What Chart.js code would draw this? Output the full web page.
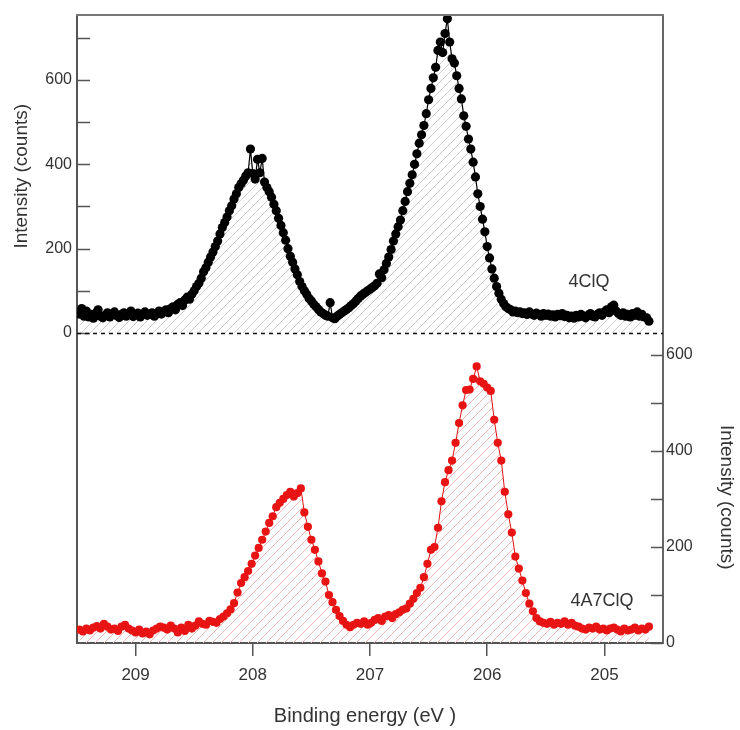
<!DOCTYPE html>
<html>
<head>
<meta charset="utf-8">
<title>XPS S 2p spectra</title>
<script src="https://cdn.jsdelivr.net/npm/chart.js@4.4.1/dist/chart.umd.min.js"></script>
<style>
    html, body { margin: 0; padding: 0; background: #fff; }
    #wrap { width: 740px; height: 730px; }
</style>
</head>
<body>
<div id="wrap"><canvas id="xps-chart" width="740" height="730"></canvas></div>
<script>
// Binding energy sampling (eV), first point and step of each scan
var blackStart = 209.48, blackStep = 0.02;
var redStart = 209.48, redStep = 0.03;

// 4ClQ counts (top panel)
var clqCounts = [
    45, 58, 40, 52, 38, 44, 35, 47, 55, 40,
    36, 42, 48, 38, 45, 50, 41, 37, 44, 48,
    40, 46, 52, 39, 43, 47, 38, 45, 50, 42,
    44, 48, 40, 46, 52, 45, 50, 55, 48, 58,
    62, 55, 68, 72, 65, 78, 85, 80, 92, 100,
    110, 118, 130, 145, 155, 168, 180, 192, 205, 218,
    235, 250, 262, 275, 290, 302, 318, 330, 345, 354,
    362, 372, 380, 436, 378, 365, 412, 380, 414, 358,
    345, 335, 322, 305, 290, 272, 255, 238, 220, 200,
    182, 168, 152, 138, 122, 110, 100, 92, 82, 76,
    68, 62, 56, 50, 46, 42, 40, 72, 36, 34,
    40, 44, 48, 52, 56, 60, 65, 70, 76, 82,
    88, 92, 96, 100, 104, 108, 112, 118, 140, 131,
    150, 165, 180, 198, 218, 235, 252, 268, 290, 312,
    335, 355, 375, 400, 425, 450, 470, 492, 520, 553,
    580, 605, 630, 670, 690, 665, 710, 745, 690, 650,
    640, 610, 580, 555, 515, 490, 460, 436, 405, 370,
    330, 300, 270, 240, 205, 178, 152, 130, 110, 94,
    80, 70, 62, 58, 55, 50, 52, 48, 50, 46,
    48, 44, 50, 45, 42, 47, 44, 40, 46, 42,
    45, 40, 43, 38, 44, 41, 46, 39, 42, 36,
    40, 35, 42, 38, 44, 40, 36, 42, 46, 40,
    38, 44, 48, 42, 50, 55, 48, 62, 66, 52,
    46, 42, 48, 40, 44, 38, 46, 42, 50, 40,
    44, 38, 36, 28
];

// 4A7ClQ counts (bottom panel)
var a7clqCounts = [
    28, 24, 30, 26, 32, 35, 30, 40, 34, 28,
    30, 25, 34, 38, 30, 26, 22, 28, 20, 24,
    18, 26, 30, 34, 32, 28, 36, 30, 22, 32,
    25, 38, 30, 36, 45, 40, 38, 46, 44, 42,
    50, 55, 62, 70, 83, 105, 125, 137, 150, 165,
    182, 198, 215, 232, 250, 264, 283, 292, 300, 308,
    315, 305, 312, 322, 272, 242, 215, 194, 170, 145,
    128, 100, 85, 69, 56, 46, 38, 33, 38, 42,
    40, 45, 38, 42, 48, 52, 46, 55, 58, 52,
    60, 64, 69, 72, 82, 92, 104, 115, 137, 165,
    194, 200, 240, 295, 335, 360, 380, 417, 458, 495,
    527, 528, 550, 576, 545, 540, 532, 525, 465, 417,
    380, 315, 268, 230, 180, 155, 130, 104, 82, 66,
    52, 45, 42, 40, 44, 38, 42, 40, 45, 38,
    42, 36, 34, 30, 28, 32, 30, 34, 28, 30,
    26, 30, 32, 28, 24, 30, 26, 28, 32, 26,
    30, 28, 34
];

// Axis ticks
var energyTicks = [205, 206, 207, 208, 209];
var topTicks = [0, 100, 200, 300, 400, 500, 600, 700];
var bottomTicks = [0, 100, 200, 300, 400, 500, 600];

(function() {
    'use strict';

    var textColor = '#333';
    var axisColor = '#555';

    function toPoints(start, step, counts) {
        return counts.map(function(c, i) {
            return { x: +(start - i * step).toFixed(3), y: c };
        });
    }

    /**
     * Diagonal hatch used under each spectrum
     */
    function hatch(color) {
        var s = 9;
        var c = document.createElement('canvas');
        c.width = s;
        c.height = s;
        var g = c.getContext('2d');
        g.strokeStyle = color;
        g.lineWidth = 1;
        g.beginPath();
        g.moveTo(0, s); g.lineTo(s, 0);
        g.moveTo(-2, 2); g.lineTo(2, -2);
        g.moveTo(s - 2, s + 2); g.lineTo(s + 2, s - 2);
        g.stroke();
        return g.createPattern(c, 'repeat');
    }

    var frame = {
        id: 'frame',
        afterDraw: function(chart) {
            var ctx = chart.ctx;
            var a = chart.chartArea;
            var y1 = chart.scales.y1;
            var y2 = chart.scales.y2;
            ctx.save();

            // top border
            ctx.strokeStyle = '#777';
            ctx.lineWidth = 2;
            ctx.beginPath();
            ctx.moveTo(a.left - 1, a.top);
            ctx.lineTo(a.right + 1, a.top);
            ctx.stroke();

            // inward ticks
            ctx.strokeStyle = axisColor;
            ctx.lineWidth = 1.5;
            ctx.beginPath();
            topTicks.forEach(function(v) {
                var p = Math.round(y1.getPixelForValue(v)) + 0.5;
                ctx.moveTo(a.left, p);
                ctx.lineTo(a.left + 13, p);
            });
            bottomTicks.forEach(function(v) {
                var p = Math.round(y2.getPixelForValue(v)) + 0.5;
                ctx.moveTo(a.right, p);
                ctx.lineTo(a.right - 12, p);
            });
            ctx.stroke();

            // zero line of the top spectrum
            var z = Math.round(y1.getPixelForValue(0)) + 0.5;
            ctx.strokeStyle = '#111';
            ctx.lineWidth = 1.5;
            ctx.setLineDash([4, 4]);
            ctx.beginPath();
            ctx.moveTo(a.left, z);
            ctx.lineTo(a.right, z);
            ctx.stroke();
            ctx.setLineDash([]);

            // titles and labels
            ctx.fillStyle = textColor;
            ctx.textAlign = 'center';
            ctx.textBaseline = 'middle';
            ctx.font = '19px "Liberation Sans", Arial, sans-serif';

            ctx.save();
            ctx.translate(22, (a.top + z) / 2 + 2);
            ctx.rotate(-Math.PI / 2);
            ctx.fillText('Intensity (counts)', 0, 0);
            ctx.restore();

            ctx.save();
            ctx.translate(726, (z + a.bottom) / 2 + 9);
            ctx.rotate(Math.PI / 2);
            ctx.fillText('Intensity (counts)', 0, 0);
            ctx.restore();

            ctx.font = '20px "Liberation Sans", Arial, sans-serif';
            ctx.fillText('Binding energy (eV )', 365, 716);

            ctx.font = '18px "Liberation Sans", Arial, sans-serif';
            ctx.fillText('4ClQ', 589, 282);
            ctx.fillText('4A7ClQ', 602, 601);
            ctx.restore();
        }
    };

    var canvas = document.getElementById('xps-chart');

    new Chart(canvas.getContext('2d'), {
        type: 'scatter',
        data: {
            datasets: [{
                label: '4ClQ',
                data: toPoints(blackStart, blackStep, clqCounts),
                yAxisID: 'y1',
                showLine: true,
                borderColor: '#000',
                borderWidth: 1.2,
                backgroundColor: hatch('#cdcdcd'),
                pointBackgroundColor: '#000',
                pointBorderWidth: 0,
                pointRadius: 4.6,
                fill: 'origin'
            }, {
                label: '4A7ClQ',
                data: toPoints(redStart, redStep, a7clqCounts),
                yAxisID: 'y2',
                showLine: true,
                borderColor: '#e01010',
                borderWidth: 1,
                backgroundColor: hatch('#eeb8b8'),
                pointBackgroundColor: '#e81414',
                pointBorderWidth: 0,
                pointRadius: 4.1,
                fill: 'origin'
            }]
        },
        options: {
            responsive: false,
            animation: false,
            layout: {
                padding: { top: 15, left: 0, right: 0, bottom: 0 }
            },
            plugins: {
                legend: { display: false },
                tooltip: { enabled: false }
            },
            scales: {
                x: {
                    type: 'linear',
                    position: 'bottom',
                    reverse: true,
                    min: 204.5,
                    max: 209.5,
                    afterBuildTicks: function(scale) {
                        scale.ticks = energyTicks.map(function(v) { return { value: v }; });
                    },
                    afterFit: function(scale) { scale.height = 87; },
                    ticks: {
                        color: textColor,
                        padding: 9,
                        font: { family: '"Liberation Sans", Arial, sans-serif', size: 17 }
                    },
                    grid: {
                        drawOnChartArea: false,
                        drawTicks: true,
                        tickLength: 13,
                        color: axisColor,
                        lineWidth: 1.5
                    },
                    border: { color: axisColor, width: 2 }
                },
                y1: {
                    type: 'linear',
                    position: 'left',
                    min: -735,
                    max: 754,
                    afterBuildTicks: function(scale) {
                        scale.ticks = topTicks.map(function(v) { return { value: v }; });
                    },
                    afterFit: function(scale) { scale.width = 77; },
                    ticks: {
                        color: textColor,
                        padding: 5,
                        font: { family: '"Liberation Sans", Arial, sans-serif', size: 16 },
                        callback: function(v) { return v % 200 === 0 ? v : ''; }
                    },
                    grid: { drawOnChartArea: false, drawTicks: false },
                    border: { color: axisColor, width: 2 }
                },
                y2: {
                    type: 'linear',
                    position: 'right',
                    min: 0,
                    max: 1308,
                    afterBuildTicks: function(scale) {
                        scale.ticks = bottomTicks.map(function(v) { return { value: v }; });
                    },
                    afterFit: function(scale) { scale.width = 77; },
                    ticks: {
                        color: textColor,
                        padding: 3,
                        font: { family: '"Liberation Sans", Arial, sans-serif', size: 16 },
                        callback: function(v) { return v % 200 === 0 ? v : ''; }
                    },
                    grid: { drawOnChartArea: false, drawTicks: false },
                    border: { color: '#666', width: 2 }
                }
            }
        },
        plugins: [frame]
    });
})();
</script>
</body>
</html>
